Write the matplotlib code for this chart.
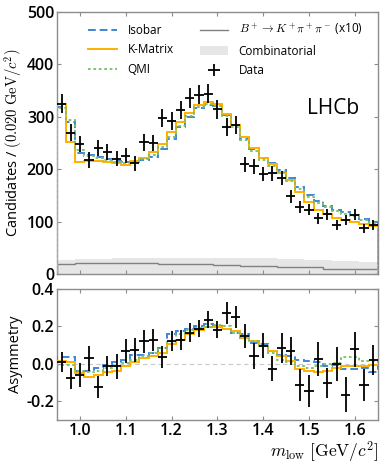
import numpy as np
import matplotlib
matplotlib.use("Agg")
import matplotlib.pyplot as plt

plt.rcParams['font.family'] = ['Open Sans', 'DejaVu Sans']
plt.rcParams['mathtext.fontset'] = 'cm'

# binning in m_low
edges = np.round(np.arange(0.95, 1.6501, 0.02), 3)
centers = (edges[:-1] + edges[1:]) / 2

# top panel: candidates per bin
data = [325, 270, 248, 218, 240, 232, 220, 226, 211, 251, 250, 297, 292, 313, 336,
        342, 344, 314, 281, 284, 209, 206, 191, 192, 183, 148, 128, 123, 106, 114,
        94, 103, 113, 87, 94]
data_err = [18, 16.5, 15.7, 14.8, 15.5, 15.2, 14.8, 15, 14.5, 15.8, 15.8, 17.2, 17.1, 17.7, 18.3,
            18.5, 18.5, 17.7, 16.8, 16.9, 14.5, 14.4, 13.8, 13.9, 13.5, 12.2, 11.3, 11.1, 10.3, 10.7,
            9.7, 10.1, 10.6, 9.3, 9.7]
isobar = [318, 290, 231, 228, 224, 220, 216, 213, 213, 217, 224, 238, 258, 281, 300,
          317, 322, 320, 303, 284, 258, 238, 222, 212, 199, 184, 166, 151, 140, 130,
          122, 118, 113, 105, 100]
kmatrix = [325, 252, 214, 215, 216, 214, 211, 208, 216, 221, 232, 249, 271, 291, 307,
           323, 329, 324, 305, 285, 262, 241, 222, 209, 193, 179, 157, 138, 122, 114,
           107, 103, 99, 95, 92]
qmi = [316, 294, 237, 226, 222, 218, 214, 212, 214, 220, 228, 242, 262, 283, 302,
       318, 324, 321, 302, 280, 255, 234, 218, 207, 194, 178, 162, 147, 136, 128,
       120, 115, 110, 103, 98]
bkpipi = [19, 19, 21, 21, 21, 21, 21, 21, 21, 21, 21, 18.5, 18.5, 18.5, 18.5,
          18.5, 18.5, 16.5, 16.5, 16.5, 15.3, 15.3, 15.3, 15.3, 12.7, 12.7, 12.7, 12.7, 12.7, 10.2,
          10.2, 10.2, 10.2, 10.2, 10.2]
combinatorial = [27, 27.5, 28, 28.5, 29, 29.3, 29.6, 30, 30.2, 30.4, 30.6, 30.8, 31, 31, 31.2,
                 31.2, 31.2, 31, 31, 30.8, 30.6, 30.3, 30, 29.6, 29.2, 28.7, 28.2, 27.6, 27, 26.3,
                 25.6, 24.8, 24, 23, 22]

# bottom panel: asymmetry
asym = [0.012, -0.078, -0.06, 0.031, -0.125, -0.012, -0.012, 0.07, 0.075, 0.12, 0.127, 0.037,
        0.124, 0.127, 0.167, 0.188, 0.235, 0.183, 0.27, 0.252, 0.148, 0.043, 0.096, -0.026,
        0.083, 0.07, -0.113, -0.144, 0.026, -0.1, 0.0, -0.165, 0.078, -0.113, 0.019]
asym_err = [0.054, 0.058, 0.063, 0.067, 0.058, 0.054, 0.067, 0.063, 0.063, 0.063, 0.058, 0.058,
            0.054, 0.054, 0.05, 0.045, 0.045, 0.045, 0.058, 0.058, 0.063, 0.071, 0.067, 0.067,
            0.08, 0.076, 0.085, 0.085, 0.09, 0.08, 0.089, 0.094, 0.094, 0.085, 0.08]
asym_isobar = [0.039, 0.039, -0.036, -0.036, -0.021, -0.004, 0.009, 0.023, 0.046, 0.05, 0.059, 0.086,
               0.157, 0.175, 0.184, 0.205, 0.215, 0.205, 0.184, 0.166, 0.157, 0.113, 0.104, 0.068,
               0.046, 0.041, 0.023, 0.018, 0.011, -0.013, -0.004, -0.025, -0.03, -0.021, -0.045]
asym_kmatrix = [0.018, 0.01, -0.048, -0.07, -0.061, -0.043, -0.036, -0.012, 0.011, 0.029, 0.041, 0.059,
                0.104, 0.13, 0.157, 0.179, 0.196, 0.196, 0.188, 0.175, 0.139, 0.121, 0.095, 0.068,
                0.041, 0.018, -0.03, -0.039, -0.043, -0.036, -0.021, -0.014, -0.014, -0.011, -0.004]
asym_qmi = [-0.004, -0.007, -0.036, -0.043, -0.036, -0.021, -0.01, 0.004, 0.023, 0.041, 0.059, 0.086,
            0.12, 0.157, 0.179, 0.193, 0.196, 0.21, 0.2, 0.166, 0.139, 0.121, 0.095, 0.059,
            0.023, 0.011, -0.013, -0.021, -0.013, 0.0, 0.005, 0.038, 0.038, 0.018, 0.014]

c_iso = '#3f86d4'
c_km = '#ffb000'
c_qmi = '#78bf6a'
spine_c = '#8c8c8c'

fig = plt.figure(figsize=(3.82, 4.67), dpi=100)
ax = fig.add_axes([0.149, 0.4133, 0.840, 0.561])
ax2 = fig.add_axes([0.149, 0.1006, 0.840, 0.2805])

ax.stairs(combinatorial, edges, fill=True, color='#e6e6e6', label='Combinatorial', zorder=1)
ax.stairs(bkpipi, edges, color='#808080', lw=1.0, label=r'$B^+\to K^+\pi^+\pi^-$ (x10)', zorder=2)
ax.stairs(isobar, edges, color=c_iso, lw=1.4, ls=(0, (4, 2)), label='Isobar', zorder=3)
ax.stairs(kmatrix, edges, color=c_km, lw=1.4, label='K-Matrix', zorder=3)
ax.stairs(qmi, edges, color=c_qmi, lw=1.3, ls=(0, (1.5, 1.5)), label='QMI', zorder=3)
ax.errorbar(centers, data, yerr=data_err, xerr=0.01, fmt='none', ecolor='black',
            elinewidth=1.3, capsize=0, label='Data', zorder=4)

ax.set_xlim(0.95, 1.65)
ax.set_ylim(0, 500)
ax.set_yticks([0, 100, 200, 300, 400, 500])
ax.set_xticks([1.0, 1.1, 1.2, 1.3, 1.4, 1.5, 1.6])
ax.tick_params(labelbottom=False)
ax.set_ylabel(r'Candidates / $(0.020\ \mathrm{GeV}/c^2)$', fontsize=10.5, labelpad=2)
ax.text(0.86, 0.63, 'LHCb', transform=ax.transAxes, fontsize=15, ha='center', va='center')

h, l = ax.get_legend_handles_labels()
order = ['Isobar', 'K-Matrix', 'QMI', r'$B^+\to K^+\pi^+\pi^-$ (x10)', 'Combinatorial', 'Data']
hd = dict(zip(l, h))
ax.legend([hd[k] for k in order], order, ncol=2, frameon=False, fontsize=8.5,
          loc='upper left', bbox_to_anchor=(0.08, 0.985), handlelength=2.4,
          handletextpad=0.9, columnspacing=2.2, labelspacing=0.55, borderpad=0)

ax2.axhline(0, color='#c8c8c8', lw=0.8, ls=(0, (4, 3)), zorder=1)
ax2.stairs(asym_isobar, edges, color=c_iso, lw=1.4, ls=(0, (4, 2)), zorder=3)
ax2.stairs(asym_kmatrix, edges, color=c_km, lw=1.4, zorder=3)
ax2.stairs(asym_qmi, edges, color=c_qmi, lw=1.3, ls=(0, (1.5, 1.5)), zorder=3)
ax2.errorbar(centers, asym, yerr=asym_err, xerr=0.01, fmt='none', ecolor='black',
             elinewidth=1.3, capsize=0, zorder=4)
ax2.set_xlim(0.95, 1.65)
ax2.set_ylim(-0.3, 0.4)
ax2.set_yticks([-0.2, 0.0, 0.2, 0.4])
ax2.set_xticks([1.0, 1.1, 1.2, 1.3, 1.4, 1.5, 1.6])
ax2.set_yticklabels(['-0.2', '0.0', '0.2', '0.4'])
ax2.set_xticklabels(['1.0', '1.1', '1.2', '1.3', '1.4', '1.5', '1.6'])
ax2.set_ylabel('Asymmetry', fontsize=10.5, labelpad=2)
ax2.set_xlabel(r'$m_{\rm low}\ [\mathrm{GeV}/c^2]$', fontsize=12.5, loc='right', labelpad=1)

for a in (ax, ax2):
    for s in a.spines.values():
        s.set_color(spine_c)
        s.set_linewidth(1.0)
    a.tick_params(direction='in', top=True, right=True, length=3, width=0.8,
                  color=spine_c, labelsize=11.5, pad=2)
    for t in a.get_xticklabels() + a.get_yticklabels():
        t.set_fontweight('semibold')

fig.savefig('out.png', dpi=100)
